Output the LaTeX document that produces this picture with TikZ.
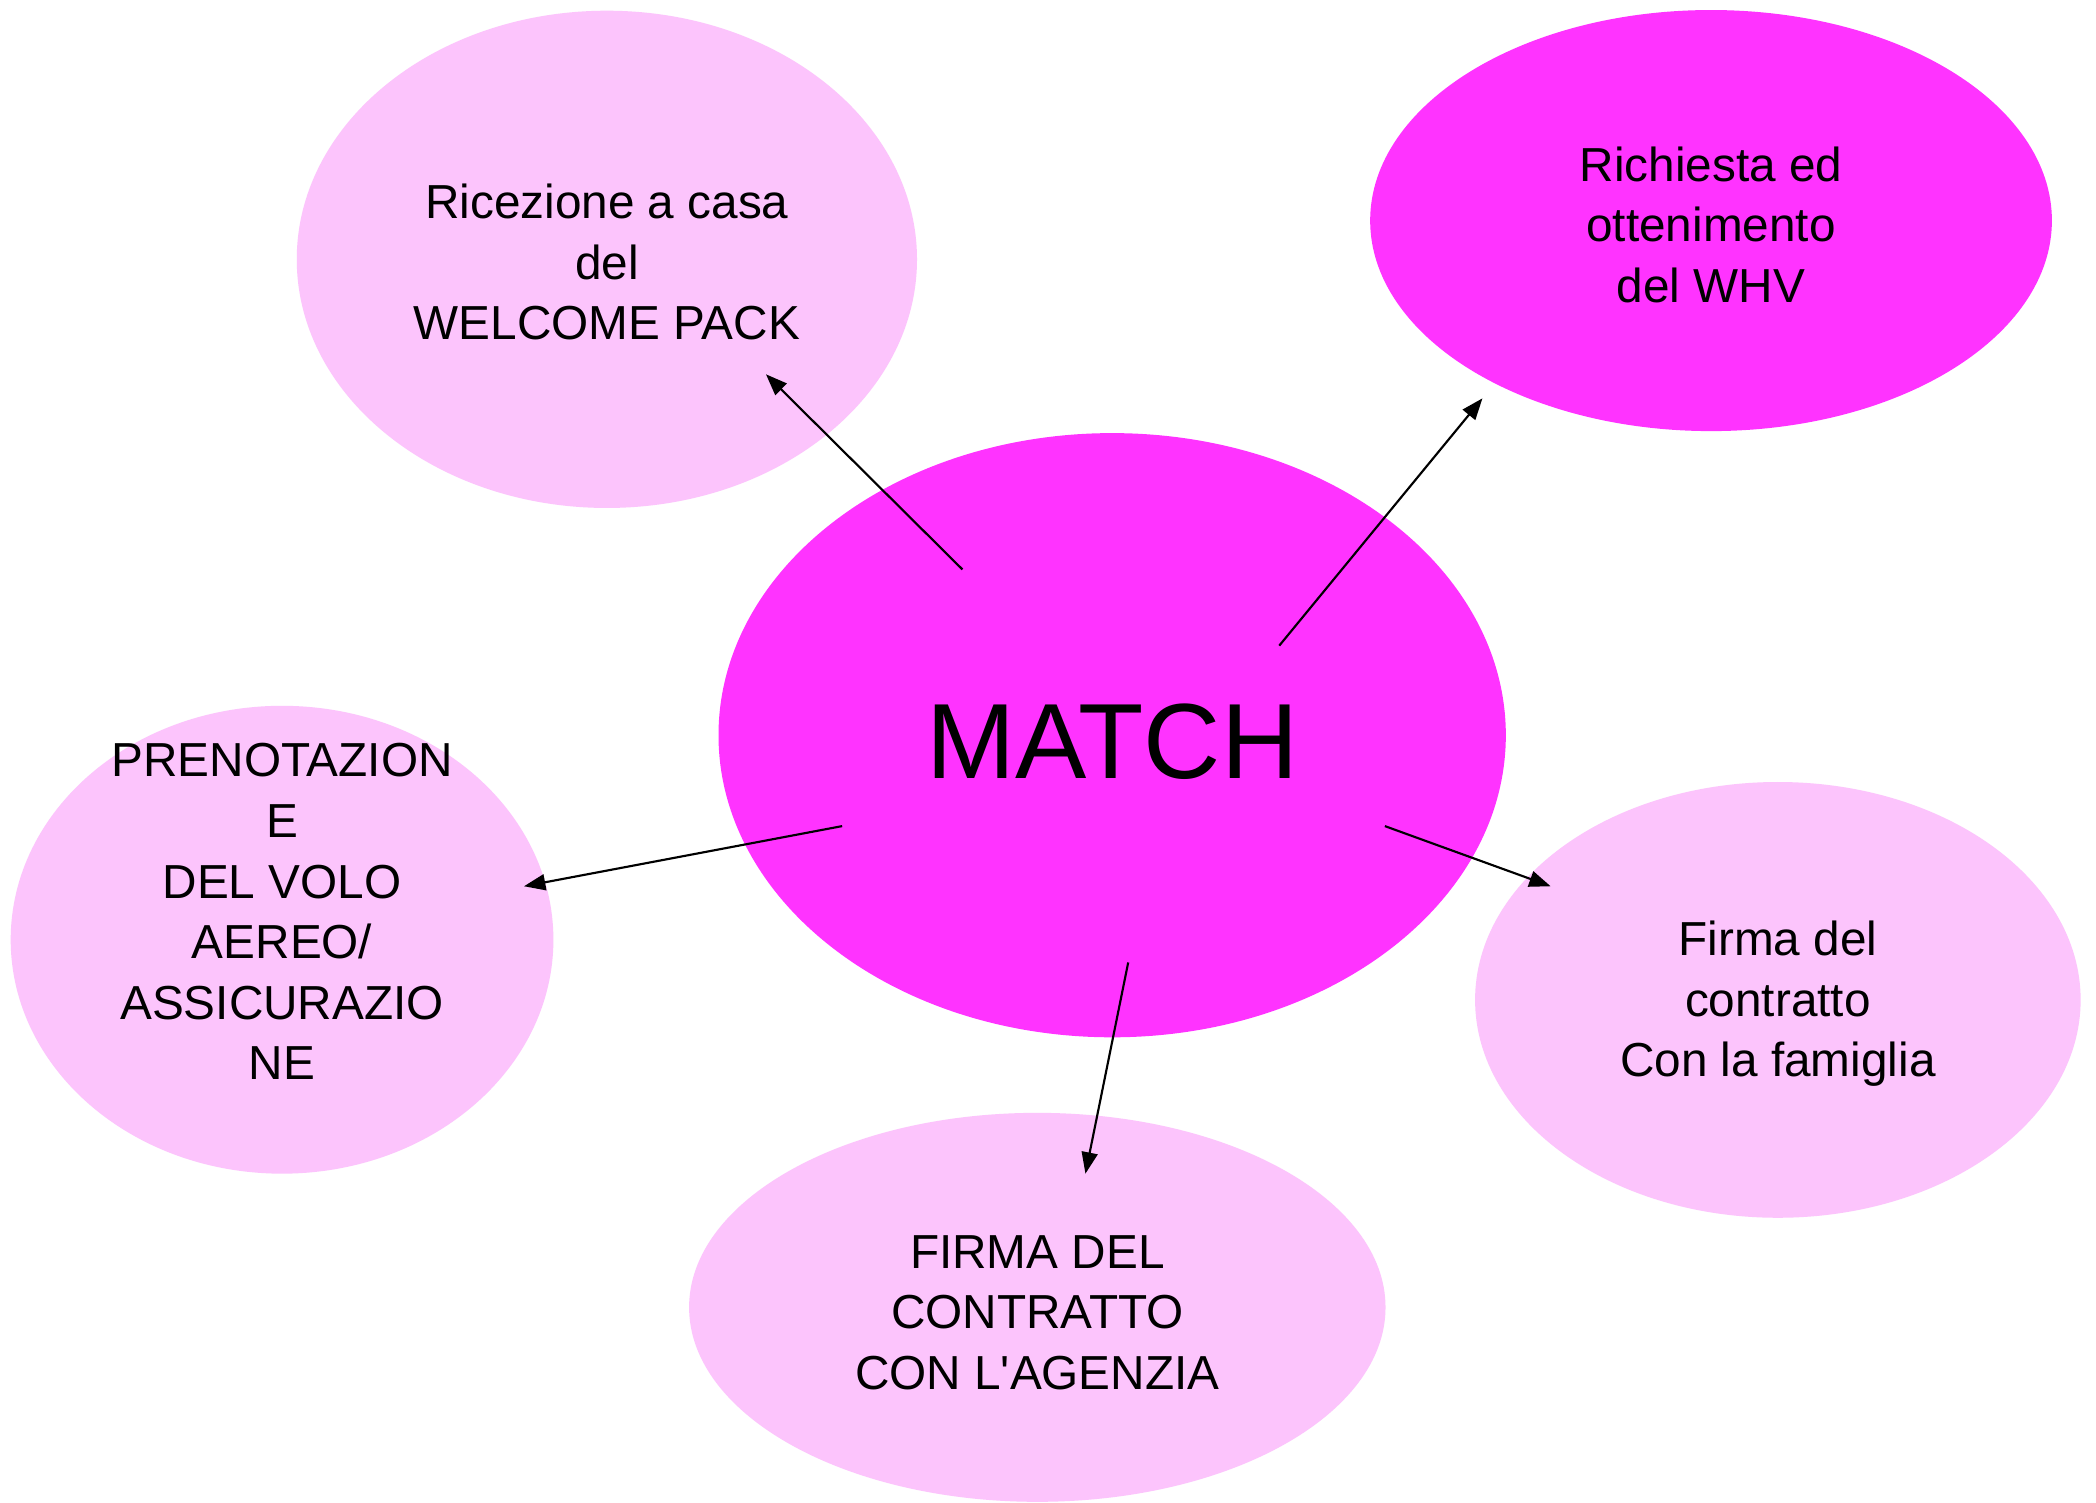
\documentclass[tikz,border=0pt]{standalone}
\usepackage{fontspec}
\setmainfont{Liberation Sans}
\usetikzlibrary{shapes.geometric,arrows.meta}
\definecolor{mag}{RGB}{255,51,255}
\definecolor{lightmag}{RGB}{252,196,252}
\begin{document}
\begin{tikzpicture}[x=1pt,y=-1pt,
  blob/.style={ellipse,fill=lightmag,draw=none,inner sep=0pt},
  bigblob/.style={ellipse,fill=mag,draw=none,inner sep=0pt},
  lbl/.style={align=center,font=\fontsize{35.7}{45.3}\selectfont,inner sep=0pt},
  arr/.style={line width=1.6pt,-{Triangle[length=16pt,width=12pt]}}]
\useasboundingbox (0,0) rectangle (1568,1124);
\fill[white] (0,0) rectangle (1568,1124);
% ellipses
\node[blob,minimum width=464pt,minimum height=372pt] (tl) at (454,194) {};
\node[bigblob,minimum width=510pt,minimum height=315pt] (tr) at (1280,165) {};
\node[blob,minimum width=406pt,minimum height=350pt] (lf) at (211,703) {};
\node[blob,minimum width=521pt,minimum height=291pt] (bt) at (776,978) {};
\node[blob,minimum width=453pt,minimum height=326pt] (rt) at (1330,748) {};
\node[bigblob,minimum width=589pt,minimum height=452pt] (mt) at (832,550) {};
% texts
\node[lbl] (tltx) at (454,196) {Ricezione a casa\\del\\WELCOME PACK};
\node[lbl] (trtx) at (1280,168) {Richiesta ed\\ottenimento\\del WHV};
\node[lbl] (lftx) at (211,682) {PRENOTAZION\\E\\DEL VOLO\\AEREO/\\ASSICURAZIO\\NE};
\node[lbl] (bttx) at (776,982) {FIRMA DEL\\CONTRATTO\\CON L\textquotesingle AGENZIA};
\node[lbl] (rttx) at (1330,751) {Firma del\\contratto\\Con la famiglia};
\node[inner sep=0pt,font=\fontsize{80}{92}\selectfont] (mttx) at (832,555) {MATCH};
% connector endpoints
\coordinate (s1) at (720,426);  \coordinate (e1) at (573,280);
\coordinate (s2) at (957,483);  \coordinate (e2) at (1109,298);
\coordinate (s3) at (630,618);  \coordinate (e3) at (392,663);
\coordinate (s4) at (844,720);  \coordinate (e4) at (812,878);
\coordinate (s5) at (1036,618); \coordinate (e5) at (1160,663);
\draw[arr] (s1) -- (e1);
\draw[arr] (s2) -- (e2);
\draw[arr] (s3) -- (e3);
\draw[arr] (s4) -- (e4);
\draw[arr] (s5) -- (e5);
\end{tikzpicture}
\end{document}
